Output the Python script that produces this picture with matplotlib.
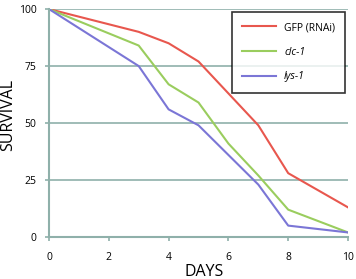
import matplotlib
matplotlib.use('Agg')
import matplotlib.pyplot as plt

# survival data
days = [0, 3, 4, 5, 6, 7, 8, 10]
gfp = [100, 90, 85, 77, 63, 49, 28, 13]
clc1 = [100, 84, 67, 59, 41, 27, 12, 2]
lys1 = [100, 75, 56, 49, 36, 23, 5, 2]

series_labels = ['GFP (RNAi)', 'clc-1', 'lys-1']
x_ticks = [0, 2, 4, 6, 8, 10]
y_ticks = [0, 25, 50, 75, 100]

plt.rcParams['font.family'] = ['Open Sans', 'DejaVu Sans']

fig = plt.figure(figsize=(3.56, 2.79), dpi=100)
ax = fig.add_axes([0.1376, 0.1505, 0.840, 0.817])

grid_col = '#8fb0aa'

ax.plot(days, gfp, color='#e8574e', linewidth=1.5, label=series_labels[0])
ax.plot(days, clc1, color='#9acd5e', linewidth=1.5, label=series_labels[1])
ax.plot(days, lys1, color='#7b76d6', linewidth=1.5, label=series_labels[2])

ax.set_xlim(0, 10)
ax.set_ylim(0, 100)
ax.set_xticks(x_ticks)
ax.set_yticks(y_ticks)

# horizontal grid only
ax.yaxis.grid(True, color=grid_col, linewidth=1.2)
ax.set_axisbelow(True)

for s in ['top', 'right']:
    ax.spines[s].set_visible(False)
ax.spines['left'].set_color(grid_col)
ax.spines['bottom'].set_color(grid_col)
ax.spines['left'].set_linewidth(1.5)
ax.spines['bottom'].set_linewidth(1.5)

ax.tick_params(axis='y', color=grid_col, length=3, width=1.2, labelsize=7.5, pad=6)
ax.tick_params(axis='x', color=grid_col, length=3, width=1.2, labelsize=7.5, pad=8)

ax.set_ylabel('SURVIVAL', fontsize=11.5)
ax.yaxis.set_label_coords(-0.135, 0.535)
ax.set_xlabel('DAYS', fontsize=11.5)
ax.xaxis.set_label_coords(0.52, -0.155)
ax.xaxis.label.set_va('center')
ax.yaxis.label.set_va('center')

leg = ax.legend(loc='upper right', bbox_to_anchor=(1.0, 1.0), fontsize=7.5,
                frameon=True, fancybox=False, edgecolor='black',
                handlelength=3.2, labelspacing=1.3, borderpad=1.0,
                borderaxespad=0.25)
leg.get_frame().set_linewidth(1.2)
for t in leg.get_texts()[1:]:
    t.set_style('italic')

plt.savefig('out.png', dpi=100)
